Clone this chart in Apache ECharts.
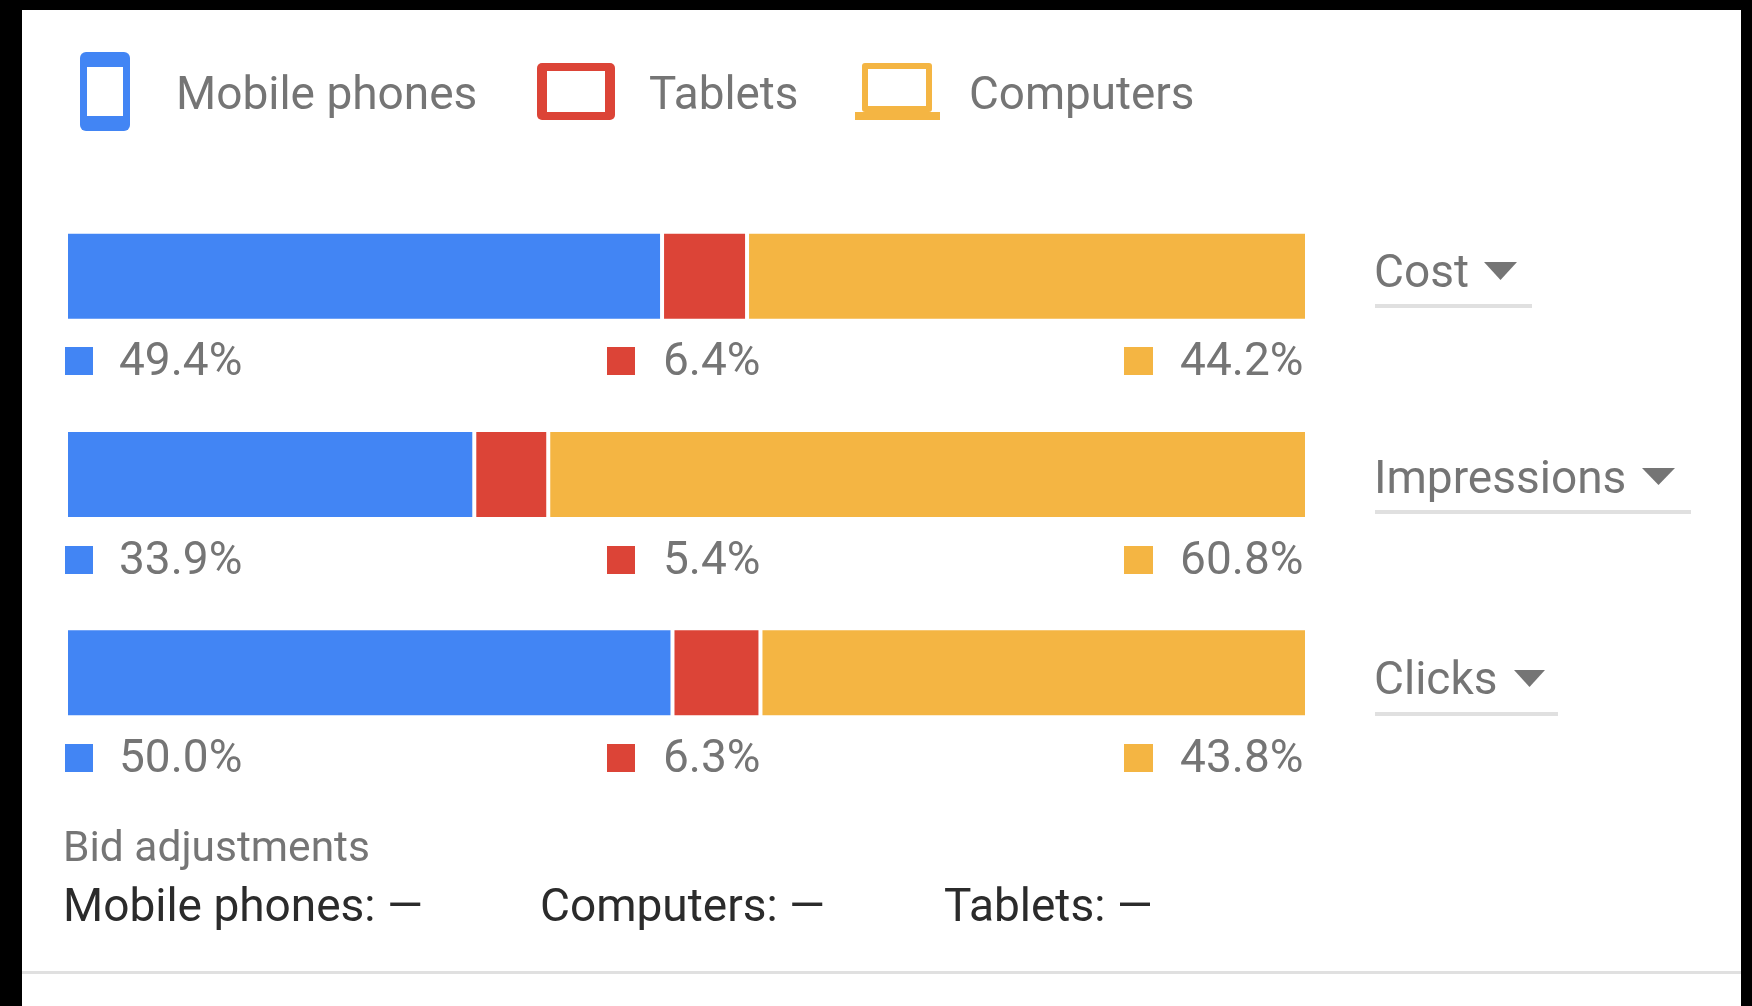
<!DOCTYPE html>
<html>
<head>
<meta charset="utf-8">
<style>
html,body{margin:0;padding:0;background:#000;width:1752px;height:1006px;overflow:hidden}
#chart{width:1752px;height:1006px}
</style>
<script src="https://cdn.jsdelivr.net/npm/echarts@6/dist/echarts.min.js"></script>
</head>
<body>
<div id="chart"></div>
<script>
// Metrics, top to bottom
const metrics = ['Cost', 'Impressions', 'Clicks'];
const deviceNames = ['Mobile phones', 'Tablets', 'Computers'];
// Segment lengths as drawn in the picture (share of bar length)
const mobileDrawn = [48.03, 32.9, 48.87];
const tabletDrawn = [6.85, 5.96, 7.09];
const computerDrawn = [45.12, 61.14, 44.04];
// Percentages as printed under the bars
const mobileLabels = ['49.4%', '33.9%', '50.0%'];
const tabletLabels = ['6.4%', '5.4%', '6.3%'];
const computerLabels = ['44.2%', '60.8%', '43.8%'];
const bidTitle = 'Bid adjustments';
const bidLabels = ['Mobile phones: —', 'Computers: —', 'Tablets: —'];

const BLUE = '#4285F4', RED = '#DC4437', YELLOW = '#F4B543';
const GREY = '#757575', DARK = '#2b2b2b', FONT = 'Roboto';
const chart = echarts.init(document.getElementById('chart'), null, {renderer: 'canvas'});

function txt(s, x, y, size, color, align) {
  return {type: 'text', z: 10, x: x, y: y, style: {
    text: s, fontFamily: FONT, fontSize: size, fill: color,
    align: align || 'left', verticalAlign: 'middle'}};
}
function box(x, y, w, h, fill, r) {
  return {type: 'rect', z: 5, shape: {x: x, y: y, width: w, height: h, r: r || 0}, style: {fill: fill}};
}
function frame(x, y, w, h, sx, sy, color, r) {
  return [box(x, y, w, h, color, r), box(x + sx, y + sy, w - 2 * sx, h - 2 * sy, '#fff')];
}
function arrow(x0, x1, y0, y1) {
  return {type: 'polygon', z: 5, shape: {points: [[x0, y0], [x1, y0], [(x0 + x1) / 2, y1]]}, style: {fill: GREY}};
}

const graphics = [
  {type: 'rect', z: -10, shape: {x: 22, y: 10, width: 1719, height: 996}, style: {fill: '#fff'}},
  box(22, 971, 1719, 3, '#e0e0e0'),
  ...frame(80, 52, 50, 79, 7, 15, BLUE, 6),
  txt(deviceNames[0], 176, 97.5, 46, GREY),
  ...frame(537, 63, 78, 57, 10, 8, RED, 5),
  txt(deviceNames[1], 649, 97.5, 45.8, GREY),
  ...frame(862, 63, 70, 49, 6, 6, YELLOW, 3),
  box(855, 112, 85, 8, YELLOW),
  txt(deviceNames[2], 969, 97.5, 45.8, GREY),
];

const swatchTop = [347, 546, 744];
const underline = [[1532, 304], [1691, 510], [1558, 712]];
const arrows = [[1484, 1517, 262, 280], [1642, 1675, 468, 485], [1514, 1545, 670, 687]];
const nameY = [275, 481, 682];
metrics.forEach(function (m, i) {
  const t = swatchTop[i], mid = t + 14 + 2;
  graphics.push(
    box(65, t, 28, 28, BLUE),
    txt(mobileLabels[i], 119, mid, 46, GREY),
    box(607, t, 28, 28, RED),
    txt(tabletLabels[i], 663, mid, 46, GREY),
    box(1124, t, 29, 28, YELLOW),
    txt(computerLabels[i], 1303.5, mid, 46, GREY, 'right'),
    txt(m, 1374, nameY[i], 46, GREY),
    arrow.apply(null, arrows[i]),
    box(1375, underline[i][1], underline[i][0] - 1375, 4, '#e0e0e0')
  );
});
graphics.push(txt(bidTitle, 63, 850, 42.5, GREY));
[63, 540, 944].forEach(function (x, i) { graphics.push(txt(bidLabels[i], x, 909.5, 46, DARK)); });

function barSeries(name, values, color) {
  return {
    name: name, type: 'bar', stack: 'share', data: values, barWidth: 89, silent: true,
    itemStyle: {color: color, borderColor: '#fff', borderWidth: 2}
  };
}

chart.setOption({
  animation: false,
  backgroundColor: 'transparent',
  grid: {left: 66, width: 1241, top: 177, height: 595, containLabel: false},
  xAxis: {type: 'value', min: 0, max: 100, show: false},
  yAxis: {type: 'category', data: metrics, inverse: true, show: false},
  graphic: {elements: graphics},
  series: [
    barSeries(deviceNames[0], mobileDrawn, BLUE),
    barSeries(deviceNames[1], tabletDrawn, RED),
    barSeries(deviceNames[2], computerDrawn, YELLOW)
  ]
});
</script>
</body>
</html>
